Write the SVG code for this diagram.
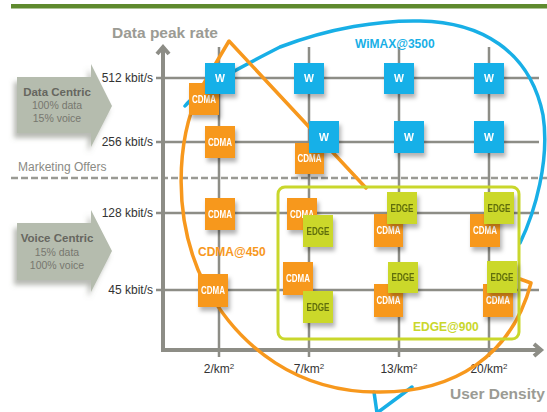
<svg xmlns="http://www.w3.org/2000/svg" width="547" height="412" viewBox="0 0 547 412">
  <defs>
    <filter id="shadow" x="-30%" y="-30%" width="170%" height="170%">
      <feDropShadow dx="2" dy="4" stdDeviation="2" flood-color="#000" flood-opacity="0.3"/>
    </filter>
    <filter id="arrowShadow" x="-20%" y="-20%" width="140%" height="150%">
      <feDropShadow dx="-3" dy="5" stdDeviation="2.5" flood-color="#6f7568" flood-opacity="0.5"/>
    </filter>
  </defs>
  <style>
    text { font-family: "Liberation Sans", Arial, sans-serif; }
    .grid { stroke: #8d8d86; stroke-width: 2.5; fill: none; }
    .axis { stroke: #8d8d86; stroke-width: 4; fill: none; }
    .tick { font-size: 12px; fill: #333; text-anchor: end; }
    .xlab { font-size: 12px; fill: #333; text-anchor: middle; }
    .title { font-size: 15.5px; font-weight: bold; fill: #9b9b94; }
    .cdma rect { fill: #f7981d; }
    .wimax rect { fill: #16b0e8; }
    .edge rect { fill: #cbd82b; }
    .node { filter: url(#shadow); }
    .node text { font-size: 10.5px; font-weight: bold; text-anchor: middle; }
    .cdma text, .wimax text { fill: #fff; }
    .edge text { fill: #5f6d0c; }
    .offer { fill: #b5bcae; filter: url(#arrowShadow); }
    .offer-h { font-size: 11.5px; font-weight: bold; fill: #66665f; text-anchor: middle; }
    .offer-t { font-size: 10.5px; fill: #77776f; text-anchor: middle; }
    .zone { font-size: 12px; font-weight: bold; }
  </style>

  <rect width="547" height="412" fill="#fff"/>

  <!-- header rule -->
  <rect x="11" y="4" width="536" height="4.5" fill="#5f8a2e"/>

  <!-- offer arrows -->
  <g id="data-centric">
    <polygon class="offer" points="17,77 91,77 91,64 112,106 91,147 91,133 17,133"/>
    <text class="offer-h" x="57" y="96">Data Centric</text>
    <text class="offer-t" x="57" y="109">100% data</text>
    <text class="offer-t" x="57" y="122">15% voice</text>
  </g>
  <g id="voice-centric">
    <polygon class="offer" points="17,223 91,223 91,210 112,251 91,292 91,280 17,280"/>
    <text class="offer-h" x="57" y="242">Voice Centric</text>
    <text class="offer-t" x="57" y="256">15% data</text>
    <text class="offer-t" x="57" y="269">100% voice</text>
  </g>

  <!-- grid -->
  <g id="grid">
    <line class="grid" x1="156" y1="78" x2="539" y2="78"/>
    <line class="grid" x1="156" y1="142" x2="539" y2="142"/>
    <line class="grid" x1="156" y1="213" x2="539" y2="213"/>
    <line class="grid" x1="156" y1="290" x2="539" y2="290"/>
    <line class="grid" x1="219" y1="47" x2="219" y2="357"/>
    <line class="grid" x1="309" y1="47" x2="309" y2="357"/>
    <line class="grid" x1="399" y1="47" x2="399" y2="357"/>
    <line class="grid" x1="489" y1="47" x2="489" y2="357"/>
  </g>

  <!-- marketing divider -->
  <line x1="11" y1="178" x2="547" y2="178" stroke="#9a9a94" stroke-width="2.5" stroke-dasharray="7,3"/>
  <text x="18" y="171" font-size="12" fill="#8a8a84">Marketing Offers</text>

  <!-- axes -->
  <g id="axes">
    <polyline class="axis" points="163,47 163,350 540,350"/>
    <polyline class="axis" points="157,54 163,47 169,54" stroke-linejoin="miter"/>
    <polyline class="axis" points="534,344 541,350 534,356" stroke-linejoin="miter"/>
  </g>
  <text class="title" x="112" y="38">Data peak rate</text>
  <text class="title" x="450" y="399" font-size="14">User Density</text>

  <!-- axis labels -->
  <text class="tick" x="153" y="82">512 kbit/s</text>
  <text class="tick" x="153" y="146">256 kbit/s</text>
  <text class="tick" x="153" y="217">128 kbit/s</text>
  <text class="tick" x="153" y="294">45 kbit/s</text>
  <text class="xlab" x="219" y="373">2/km<tspan font-size="8" dy="-4">2</tspan></text>
  <text class="xlab" x="309" y="373">7/km<tspan font-size="8" dy="-4">2</tspan></text>
  <text class="xlab" x="399" y="373">13/km<tspan font-size="8" dy="-4">2</tspan></text>
  <text class="xlab" x="489" y="373">20/km<tspan font-size="8" dy="-4">2</tspan></text>

  <!-- coverage outlines -->
  <g id="connectors" fill="none" stroke-width="3.5" stroke-linecap="round" stroke-linejoin="round">
    <path id="wimax-zone" stroke="#18afe6" d="M185,106 C200,88 235,70 280,47 C330,28 380,20 420,21 C480,22 530,50 543,115 C550,160 535,212 520,243"/>
    <path id="wimax-tail" stroke="#18afe6" d="M374,392 L377,413 L412,387"/>
    <path id="cdma-zone" stroke="#f7981d" d="M366,188 L229,41 L200,90 C176,140 172,220 205,285 C240,350 300,392 377,392 C455,393 512,355 531,283 L520,279"/>
  </g>

  <!-- EDGE coverage frame -->
  <rect id="edge-zone" x="278" y="187" width="241" height="152" rx="7" fill="none" stroke="#c9d72c" stroke-width="3"/>

  <!-- zone labels -->
  <text class="zone" x="355" y="48" fill="#18afe6">WiMAX@3500</text>
  <text class="zone" x="198" y="256" fill="#f7981d">CDMA@450</text>
  <text class="zone" x="413" y="331" fill="#c9d72c">EDGE@900</text>

  <!-- cells -->
  <g id="cdma-1" class="node cdma"><rect x="189" y="83" width="30" height="32"/><text x="204" y="103" textLength="24" lengthAdjust="spacingAndGlyphs">CDMA</text></g>
  <g id="wimax-1" class="node wimax"><rect x="205" y="63" width="30" height="31"/><text x="220" y="82">W</text></g>
  <g id="wimax-2" class="node wimax"><rect x="294" y="63" width="30" height="31"/><text x="309" y="82">W</text></g>
  <g id="wimax-3" class="node wimax"><rect x="384" y="63" width="30" height="31"/><text x="399" y="82">W</text></g>
  <g id="wimax-4" class="node wimax"><rect x="474" y="63" width="30" height="31"/><text x="489" y="82">W</text></g>

  <g id="cdma-2" class="node cdma"><rect x="205" y="126" width="30" height="32"/><text x="220" y="146" textLength="24" lengthAdjust="spacingAndGlyphs">CDMA</text></g>
  <g id="cdma-3" class="node cdma"><rect x="295" y="143" width="29" height="31"/><text x="309.5" y="162" textLength="24" lengthAdjust="spacingAndGlyphs">CDMA</text></g>
  <g id="wimax-5" class="node wimax"><rect x="309" y="121" width="30" height="32"/><text x="324" y="141">W</text></g>
  <g id="wimax-6" class="node wimax"><rect x="394" y="121" width="30" height="32"/><text x="409" y="141">W</text></g>
  <g id="wimax-7" class="node wimax"><rect x="474" y="121" width="30" height="32"/><text x="489" y="141">W</text></g>

  <g id="cdma-4" class="node cdma"><rect x="205" y="198" width="30" height="32"/><text x="220" y="218" textLength="24" lengthAdjust="spacingAndGlyphs">CDMA</text></g>
  <g id="cdma-5" class="node cdma"><rect x="198" y="274" width="30" height="33"/><text x="213" y="294" textLength="24" lengthAdjust="spacingAndGlyphs">CDMA</text></g>

  <g id="cdma-6" class="node cdma"><rect x="287" y="198" width="30" height="32"/><text x="302" y="218" textLength="24" lengthAdjust="spacingAndGlyphs">CDMA</text></g>
  <g id="edge-1" class="node edge"><rect x="303" y="215" width="30" height="32"/><text x="318" y="235" textLength="23" lengthAdjust="spacingAndGlyphs">EDGE</text></g>
  <g id="cdma-7" class="node cdma"><rect x="374" y="214" width="29" height="33"/><text x="388.5" y="234" textLength="24" lengthAdjust="spacingAndGlyphs">CDMA</text></g>
  <g id="edge-2" class="node edge"><rect x="387" y="192" width="30" height="32"/><text x="402" y="212" textLength="23" lengthAdjust="spacingAndGlyphs">EDGE</text></g>
  <g id="cdma-8" class="node cdma"><rect x="470" y="214" width="30" height="33"/><text x="485" y="234" textLength="24" lengthAdjust="spacingAndGlyphs">CDMA</text></g>
  <g id="edge-3" class="node edge"><rect x="484" y="192" width="30" height="32"/><text x="499" y="212" textLength="23" lengthAdjust="spacingAndGlyphs">EDGE</text></g>

  <g id="cdma-9" class="node cdma"><rect x="283" y="262" width="30" height="33"/><text x="298" y="282" textLength="24" lengthAdjust="spacingAndGlyphs">CDMA</text></g>
  <g id="edge-4" class="node edge"><rect x="303" y="291" width="30" height="32"/><text x="318" y="311" textLength="23" lengthAdjust="spacingAndGlyphs">EDGE</text></g>
  <g id="cdma-10" class="node cdma"><rect x="374" y="284" width="29" height="33"/><text x="388.5" y="304" textLength="24" lengthAdjust="spacingAndGlyphs">CDMA</text></g>
  <g id="edge-5" class="node edge"><rect x="388" y="262" width="30" height="31"/><text x="403" y="281" textLength="23" lengthAdjust="spacingAndGlyphs">EDGE</text></g>
  <g id="cdma-11" class="node cdma"><rect x="483" y="284" width="30" height="33"/><text x="498" y="304" textLength="24" lengthAdjust="spacingAndGlyphs">CDMA</text></g>
  <g id="edge-6" class="node edge"><rect x="487" y="261" width="30" height="32"/><text x="502" y="281" textLength="23" lengthAdjust="spacingAndGlyphs">EDGE</text></g>
</svg>
